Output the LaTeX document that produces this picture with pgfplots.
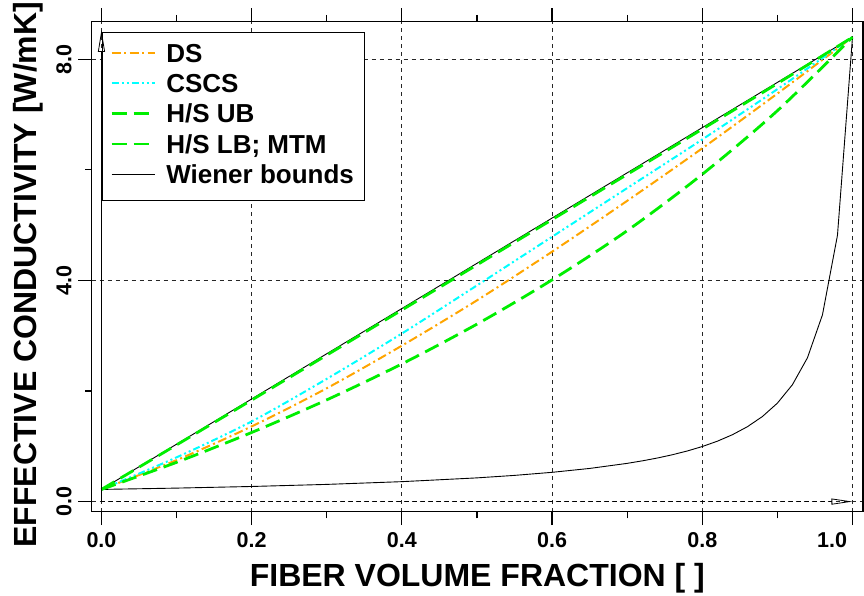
\documentclass[border=0pt]{standalone}
\usepackage{fontspec}
\setmainfont{Liberation Sans}
\usepackage{pgfplots}
\pgfplotsset{compat=1.18}
\usetikzlibrary{arrows.meta,calc}
\definecolor{dsorange}{HTML}{FFA500}
\definecolor{cscscyan}{HTML}{00FFFF}
\definecolor{hsgreen}{HTML}{00EE00}
\pgfplotsset{frame/.style={
  at={(0pt,0pt)}, anchor=south west,
  scale only axis, width=771.3pt, height=490pt,
  xmin=-0.013, xmax=1.014, ymin=-0.183, ymax=8.68}}
\begin{document}
\begin{tikzpicture}
\path[use as bounding box] (-91.7pt,-84.3pt) rectangle (772.3pt,511.7pt);
\begin{axis}[
  frame,
  xtick={0,0.2,0.4,0.6,0.8,1.0},
  minor xtick={0.1,0.3,0.5,0.7,0.9},
  ytick={0,4,8}, minor ytick={2,6},
  xticklabels={0.0,0.2,0.4,0.6,0.8,\makebox[0pt][r]{1.0\hspace{5.5pt}}},
  yticklabels={0.0,4.0,8.0},
  tick align=outside,
  major tick length=13.4pt, minor tick length=6.7pt,
  every tick/.style={black, line width=1.2pt},
  axis line style={line width=1.2pt},
  grid=major,
  major grid style={black!85, line width=0.8pt, dash pattern=on 4pt off 4pt},
  xticklabel shift=7pt, yticklabel shift=7pt,
  xticklabel style={font=\fontsize{21.5}{21.5}\selectfont\bfseries, inner sep=0pt, anchor=north},
  yticklabel style={font=\fontsize{21.5}{21.5}\selectfont\bfseries, rotate=90, anchor=base, inner sep=0pt},
  xlabel={FIBER VOLUME FRACTION [ ]},
  ylabel={EFFECTIVE CONDUCTIVITY [W/mK]},
  label style={font=\fontsize{32}{32}\selectfont\bfseries},
  xlabel style={at={(axis description cs:0.5,0)}, anchor=base, yshift=-75pt},
  ylabel style={at={($(axis description cs:0,0.4837)+(-54.7pt,0pt)$)}, anchor=base},
  legend style={at={(0.013,0.9796)}, anchor=north west, draw=black, line width=1pt, fill=white,
    inner xsep=8pt, inner ysep=11pt, font=\fontsize{26}{26}\selectfont\bfseries,
    row sep=5.4pt, column sep=10pt,
    nodes={inner sep=0pt, text height=19pt, text depth=6pt, anchor=base west}},
  legend cell align=left,
  legend image code/.code={\draw[#1] (0pt,9.3pt) -- (43.3pt,9.3pt);},
]
% Wiener bounds (upper: linear, lower: harmonic)
\addplot[black, line width=0.9pt, forget plot] coordinates {(0,0.22) (1,8.40)};
\addplot[black, line width=0.9pt, forget plot] coordinates {
(0,0.2200) (0.1,0.2438) (0.2,0.2732) (0.3,0.3108) (0.4,0.3604) (0.5,0.4288)
(0.55,0.4737) (0.6,0.5292) (0.65,0.5994) (0.7,0.6911) (0.72,0.7362) (0.74,0.7875)
(0.76,0.8464) (0.78,0.9150) (0.8,0.9957) (0.82,1.0919) (0.84,1.2087) (0.86,1.3536)
(0.88,1.5378) (0.9,1.7805) (0.92,2.1137) (0.94,2.6001) (0.96,3.3773) (0.98,4.8170) (1.0,8.40)};
% horizontal axis arrow
\addplot[black, line width=0.8pt, dash pattern=on 4pt off 4pt, -{Triangle[open, length=21pt, width=6pt]}, forget plot] coordinates {(0,0) (1,0)};
% DS
\addplot[dsorange, line width=2pt, dash pattern=on 9pt off 3.5pt on 2pt off 3.5pt, smooth] coordinates {
(0,0.22) (0.1,0.75) (0.2,1.36) (0.3,2.05) (0.4,2.82) (0.5,3.64) (0.6,4.52) (0.7,5.44) (0.8,6.39) (0.9,7.38) (1.0,8.40)};
\addlegendentry{\makebox[190pt][l]{DS}}
% CSCS
\addplot[cscscyan, line width=2pt, dash pattern=on 7pt off 3pt on 2pt off 3pt on 2pt off 3pt, smooth] coordinates {
(0,0.22) (0.1,0.80) (0.2,1.45) (0.3,2.22) (0.4,3.04) (0.5,3.91) (0.6,4.79) (0.7,5.67) (0.8,6.55) (0.9,7.46) (1.0,8.40)};
\addlegendentry{CSCS}
% H/S UB
\addplot[hsgreen, line width=2.8pt, dash pattern=on 15pt off 7pt, smooth] coordinates {
(0,0.22) (0.1,1.025) (0.2,1.836) (0.3,2.650) (0.4,3.465) (0.5,4.282) (0.6,5.100) (0.7,5.918) (0.8,6.737) (0.9,7.562) (1.0,8.40)};
\addlegendentry{H/S UB}
% H/S LB; MTM
\addplot[hsgreen, line width=2.8pt, dash pattern=on 15pt off 7pt, smooth] coordinates {
(0,0.22) (0.1,0.71) (0.2,1.25) (0.3,1.84) (0.4,2.49) (0.5,3.21) (0.6,4.01) (0.7,4.90) (0.8,5.92) (0.9,7.07) (1.0,8.40)};
\addlegendentry{H/S LB; MTM}
\addlegendimage{black, line width=0.9pt}
\addlegendentry{Wiener bounds}
\end{axis}
% overlay axis: vertical axis arrow drawn above the legend
\begin{axis}[frame, hide axis]
\addplot[black, line width=0.8pt, -{Triangle[open, length=22pt, width=7pt]}] coordinates {(0,0) (0,8.53)};
\end{axis}
\end{tikzpicture}
\end{document}
